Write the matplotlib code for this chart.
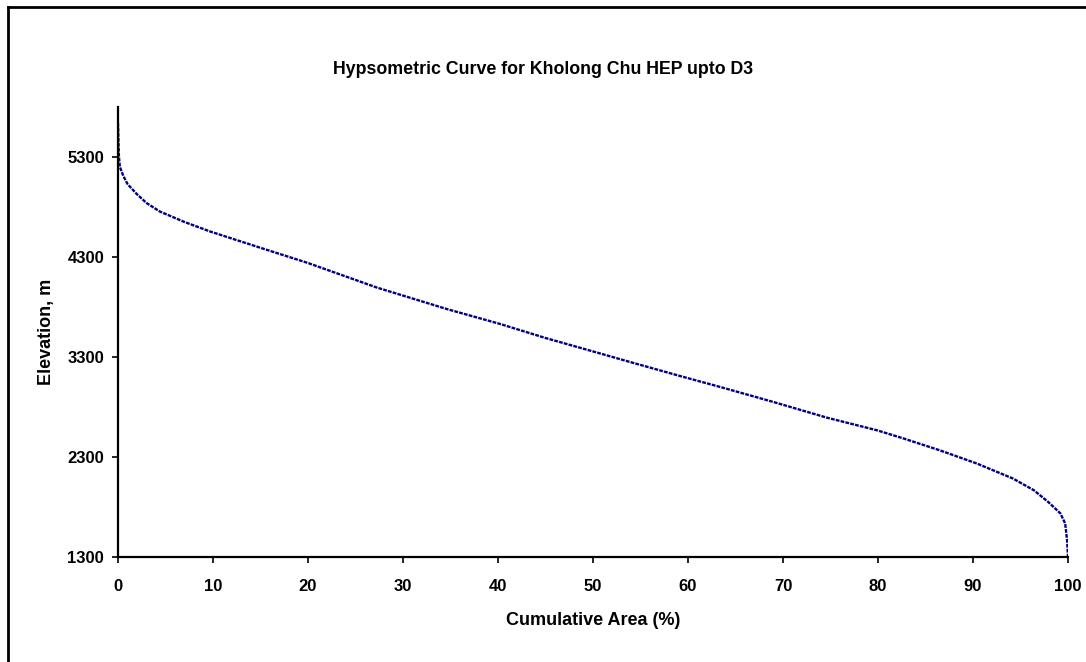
import matplotlib
matplotlib.use("Agg")
import matplotlib.pyplot as plt
from matplotlib.lines import Line2D

plt.rcParams["font.family"] = ["Liberation Sans", "DejaVu Sans"]

# Hypsometric curve
area_pct = [0, 0.05, 0.1, 0.2, 0.56, 1.0, 1.97, 3.0, 4.4, 7.0, 9.7, 14.9,
            20.0, 27.2, 34.6, 40.2, 45.0, 50.4, 54.2, 59.2, 63.4, 69.0, 74.6,
            79.9, 82.7, 86.5, 90.4, 94.2, 96.4, 97.9, 99.2, 99.7, 99.9, 100.0]
elevation = [5640, 5450, 5300, 5200, 5110, 5030, 4930, 4840, 4755, 4650, 4555,
             4395, 4240, 3996, 3780, 3631, 3490, 3345, 3242, 3109, 3000, 2850,
             2694, 2567, 2485, 2367, 2235, 2085, 1968, 1852, 1736, 1636, 1470, 1300]
x_ticks = list(range(0, 101, 10))
y_ticks = [1300, 2300, 3300, 4300, 5300]

W, H = 1086, 662
fig = plt.figure(figsize=(W / 100, H / 100), dpi=100)
ax = fig.add_axes([118 / W, 1 - 557 / H, (1068 - 118) / W, (557 - 107) / H])

ax.plot(area_pct, elevation, color="#000080", lw=1.7,
        linestyle=(0, (1.6, 0.5)))

ax.set_xlim(0, 100)
ax.set_ylim(1300, 5800)
ax.set_xticks(x_ticks)
ax.set_yticks(y_ticks)
for s in ("top", "right"):
    ax.spines[s].set_visible(False)
for s in ("left", "bottom"):
    ax.spines[s].set_linewidth(1.6)
ax.tick_params(direction="out", length=4, width=1.2, labelsize=12, pad=6)
ax.tick_params(axis="x", pad=12)
for lbl in ax.get_xticklabels() + ax.get_yticklabels():
    lbl.set_fontweight("bold")

ax.set_xlabel("Cumulative Area (%)", fontsize=13, fontweight="bold", labelpad=13)
ax.set_ylabel("Elevation, m", fontsize=13, fontweight="bold", labelpad=9)
fig.text(0.5, 1 - 69 / H, "Hypsometric Curve for Kholong Chu HEP upto D3",
         ha="center", va="center", fontsize=12.8, fontweight="bold")

# outer chart-area border (right/bottom fall outside the image)
fig.add_artist(Line2D([8 / W, 1], [1 - 7 / H, 1 - 7 / H], color="black", lw=2,
                      transform=fig.transFigure))
fig.add_artist(Line2D([8 / W, 8 / W], [0, 1 - 7 / H], color="black", lw=2,
                      transform=fig.transFigure))

fig.savefig("out.png", dpi=100)
